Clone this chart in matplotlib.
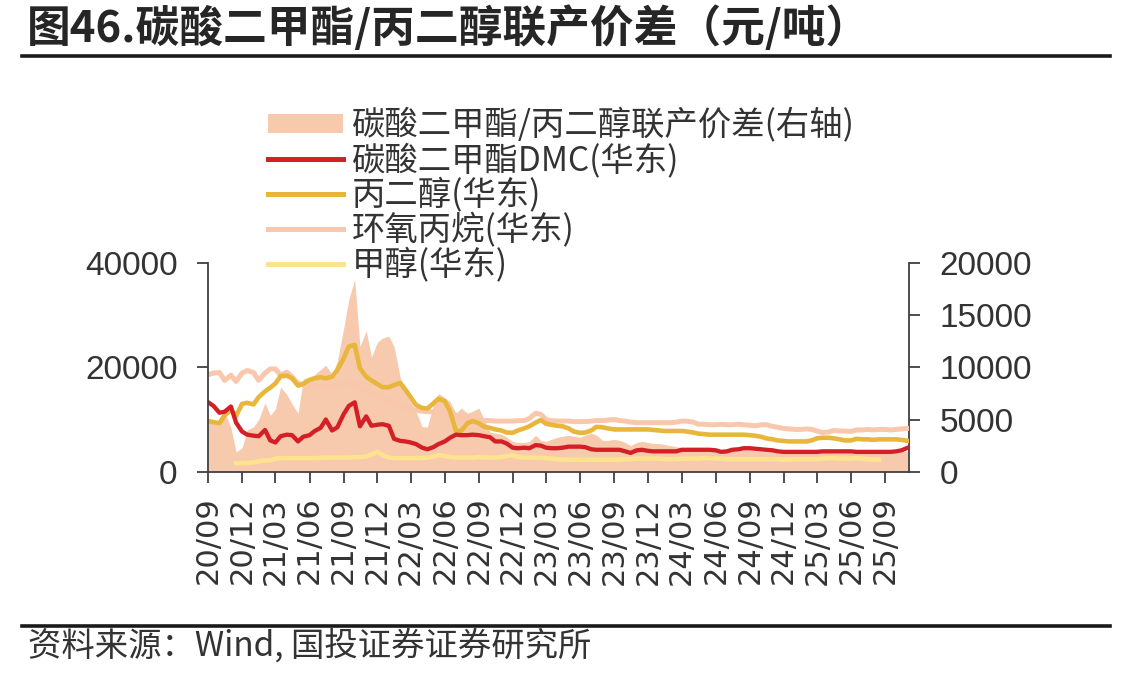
import numpy as np
import pandas as pd
from matplotlib import pyplot as plt
import matplotlib.dates as mdates
from matplotlib.patches import Patch
from matplotlib.lines import Line2D

plt.rcParams['font.family'] = ['Noto Sans CJK SC', 'DejaVu Sans']

# semi-monthly samples, 2020-09-01 .. 2025-11-01
dates = pd.date_range('2020-09-01', '2025-11-01', freq='SMS')

# 碳酸二甲酯DMC(华东), 元/吨
dmc = [13300, 12600, 11300, 11500, 12500, 9400, 7700, 7100, 6900, 6800,
       8000, 6000, 5600, 6800, 7100, 7000, 5800, 6700, 7000, 7800,
       8400, 10000, 7900, 8500, 11000, 12600, 13300, 8700, 10600, 8800,
       9000, 9100, 8800, 6300, 5900, 5800, 5600, 5300, 4600, 4300,
       4700, 5300, 5800, 6500, 7100, 7000, 7000, 7100, 7000, 6800,
       6600, 5800, 5800, 5400, 4600, 4500, 4600, 4500, 5100, 5000,
       4600, 4500, 4500, 4600, 4800, 4800, 4800, 4700, 4300, 4200,
       4200, 4200, 4200, 4200, 3900, 3600, 4100, 4200, 4000, 3900,
       3900, 3900, 3900, 3900, 4200, 4200, 4200, 4200, 4200, 4200,
       4100, 3800, 3900, 4200, 4300, 4500, 4500, 4400, 4300, 4200,
       4100, 3900, 3800, 3800, 3800, 3800, 3800, 3800, 3800, 3900,
       3900, 3900, 3900, 3900, 3900, 3800, 3800, 3800, 3800, 3800,
       3800, 3800, 3900, 4100, 4600]

# 丙二醇(华东)
pg = [9700, 9500, 9300, 10800, 11800, 10700, 13000, 13200, 12900, 14300,
      15400, 16100, 16900, 18300, 18400, 17900, 16500, 16800, 17600, 17900,
      18100, 17900, 18200, 19500, 21700, 24000, 24300, 19800, 18200, 17500,
      16800, 16200, 16200, 16600, 17000, 15700, 14300, 12800, 12200, 12100,
      13100, 14000, 13500, 11600, 7800, 7800, 9300, 9700, 9300, 8600,
      8400, 8100, 7900, 7500, 7450, 7900, 8300, 8700, 9400, 9900,
      9200, 9000, 8800, 8700, 8300, 7700, 7450, 7500, 7900, 8600,
      8500, 8300, 8100, 8100, 8100, 8100, 8100, 8100, 8100, 8000,
      7900, 7800, 7800, 7800, 7800, 7700, 7500, 7300, 7200, 7100,
      7100, 7100, 7100, 7100, 7100, 7100, 7000, 6900, 6700, 6400,
      6200, 6000, 5900, 5800, 5800, 5800, 5800, 6000, 6400, 6500,
      6500, 6400, 6200, 6000, 6000, 6300, 6200, 6200, 6100, 6200,
      6200, 6200, 6200, 6100, 5900]

# 环氧丙烷(华东)
po = [18600, 18900, 19000, 17500, 18500, 17300, 18900, 19400, 19000, 17500,
      18900, 19700, 19700, 18500, 19100, 18200, 16900, 16800, 16800, 16700,
      16500, 16400, 16400, 16500, 16800, 17000, 16800, 16000, 15500, 15000,
      14500, 14000, 13500, 13000, 12600, 12300, 12000, 11800, 11600, 11500,
      11500, 11400, 11200, 11000, 10800, 10600, 10300, 10000, 9900, 9800,
      9800, 9700, 9700, 9700, 9700, 9800, 9800, 10200, 11200, 11000,
      10000, 9800, 9700, 9700, 9700, 9600, 9600, 9600, 9700, 9800,
      9800, 9900, 10000, 9800, 9700, 9500, 9400, 9400, 9400, 9400,
      9400, 9400, 9400, 9500, 9700, 9700, 9500, 9100, 9100, 9000,
      9000, 9100, 9000, 9000, 9100, 9000, 8900, 8800, 9000, 9000,
      8700, 8500, 8300, 8200, 8100, 8100, 8200, 8100, 7800, 7500,
      7600, 7900, 7800, 7800, 7700, 8000, 8000, 8100, 8000, 8100,
      8100, 8000, 8100, 8200, 8300]

# 甲醇(华东)
meoh = [np.nan, np.nan, np.nan, np.nan, np.nan, 1600, 1650, 1700, 1750, 2000,
        2150, 2200, 2500, 2600, 2600, 2600, 2600, 2600, 2600, 2600,
        2650, 2700, 2700, 2700, 2700, 2700, 2800, 2800, 2900, 3300,
        3800, 3200, 2700, 2600, 2600, 2600, 2600, 2600, 2600, 2700,
        2900, 3200, 3000, 2800, 2700, 2700, 2700, 2700, 2800, 2700,
        2700, 2700, 2800, 3000, 3200, 2800, 2700, 2700, 2700, 2700,
        2600, 2500, 2400, 2300, 2300, 2300, 2300, 2300, 2300, 2300,
        2300, 2300, 2300, 2300, 2400, 2400, 2500, 2500, 2500, 2500,
        2500, 2400, 2400, 2400, 2500, 2500, 2500, 2500, 2600, 2600,
        2500, 2500, 2400, 2400, 2400, 2400, 2400, 2400, 2400, 2400,
        2400, 2400, 2300, 2300, 2400, 2400, 2400, 2400, 2400, 2500,
        2600, 2600, 2500, 2500, 2500, 2600, 2500, 2400, 2300, 2300,
        np.nan, np.nan, np.nan, np.nan, np.nan]

# 碳酸二甲酯/丙二醇联产价差(右轴)
spread = [4700, 4600, 4500, 5800, 4200, 1900, 2300, 4000, 4300, 5000,
          6600, 5400, 6000, 8100, 7400, 6500, 5600, 8900, 9000, 9300,
          9800, 10200, 9300, 10600, 13700, 16500, 18400, 12000, 13500, 11000,
          12400, 12800, 13000, 12000, 9000, 7800, 6700, 5800, 4300, 4300,
          6400, 7500, 7100, 6700, 5600, 6100, 5600, 5800, 6100, 5000,
          3800, 3700, 3600, 3300, 2900, 2800, 2800, 2900, 3500, 3000,
          2900, 3100, 3300, 3400, 3500, 3400, 3300, 3500, 3700, 3500,
          3000, 3000, 3100, 3000, 2800, 2500, 2800, 2900, 2800, 2700,
          2700, 2600, 2500, 2400, 2300, 2100, 2000, 2000, 2000, 2000,
          2000, 1900, 2000, 2000, 2100, 2100, 2100, 2000, 2000, 1900,
          1900, 1800, 1800, 1800, 1800, 1800, 1800, 1800, 1800, 2100,
          2200, 1800, 2200, 1900, 1800, 1800, 1800, 1800, 1800, 1800,
          1800, 1800, 1800, 1900, 2000]

labels = ['碳酸二甲酯/丙二醇联产价差(右轴)', '碳酸二甲酯DMC(华东)', '丙二醇(华东)',
          '环氧丙烷(华东)', '甲醇(华东)']

c_fill = '#F7CAAD'
c_dmc = '#D51F26'
c_pg = '#E9B63C'
c_po = '#F9C8AC'
c_meoh = '#FEE38F'
ink = '#404040'

W, H = 1147, 678
fig = plt.figure(figsize=(W / 100, H / 100), dpi=100)
ax = fig.add_axes([208.3 / W, 1 - 471.7 / H, 701 / W, 208.7 / H])
ax2 = ax.twinx()

ax2.fill_between(dates, 0, spread, color=c_fill, lw=0)
ax.set_zorder(ax2.get_zorder() + 1)
ax.patch.set_visible(False)

ax.plot(dates, po, color=c_po, lw=3.6)
ax.plot(dates, meoh, color=c_meoh, lw=3.2)
ax.plot(dates, pg, color=c_pg, lw=3.3)
ax.plot(dates, dmc, color=c_dmc, lw=3.1)

ax.set_xlim(dates[0], pd.Timestamp('2025-11-05'))
ax.set_ylim(0, 40000)
ax2.set_ylim(0, 20000)
ax.set_yticks([0, 20000, 40000])
ax2.set_yticks([0, 5000, 10000, 15000, 20000])
ax.xaxis.set_major_locator(mdates.MonthLocator(bymonth=[3, 6, 9, 12]))
ax.xaxis.set_major_formatter(mdates.DateFormatter('%y/%m'))

for a in (ax, ax2):
    a.spines['top'].set_visible(False)
    for s in a.spines.values():
        s.set_color(ink)
        s.set_linewidth(1.3)
ax.spines['right'].set_visible(False)
ax2.spines['left'].set_visible(False)
ax2.spines['bottom'].set_visible(False)

ax.tick_params(axis='y', length=8, width=1.3, color=ink, pad=14, labelsize=24,
               labelcolor='#333333', labelfontfamily='Liberation Sans')
ax2.tick_params(axis='y', length=8, width=1.3, color=ink, pad=14, labelsize=24,
                labelcolor='#333333', labelfontfamily='Liberation Sans')
ax.tick_params(axis='x', length=8, width=1.3, color=ink, pad=10, labelsize=22,
               labelcolor='#333333', labelrotation=90, labelfontfamily='DejaVu Sans')

handles = [Patch(facecolor=c_fill, edgecolor='none'),
           Line2D([], [], color=c_dmc, lw=3.6),
           Line2D([], [], color=c_pg, lw=3.6),
           Line2D([], [], color=c_po, lw=3.6),
           Line2D([], [], color=c_meoh, lw=3.6)]
fig.legend(handles, labels, loc='upper left', bbox_to_anchor=(268 / W, 1 - 108 / H),
           frameon=False, fontsize=24, handlelength=2.25, handleheight=0.5,
           handletextpad=0.27, labelspacing=0.0, borderpad=0, borderaxespad=0,
           labelcolor='#333333')

fig.text(27 / W, 1 - 28 / H, '图46.碳酸二甲酯/丙二醇联产价差（元/吨）', fontsize=31.5,
         fontweight='bold', color='#262626', va='center', ha='left')
fig.add_artist(Line2D([22 / W, 1110 / W], [1 - 56 / H] * 2, transform=fig.transFigure,
                      color='#1a1a1a', lw=2.6))
fig.add_artist(Line2D([22 / W, 1110 / W], [1 - 626 / H] * 2, transform=fig.transFigure,
                      color='#1a1a1a', lw=2.6))
fig.text(28 / W, 1 - 646 / H, '资料来源：Wind, 国投证券证券研究所', fontsize=24,
         color='#333333', va='center', ha='left')

fig.savefig('out.png', dpi=100)
